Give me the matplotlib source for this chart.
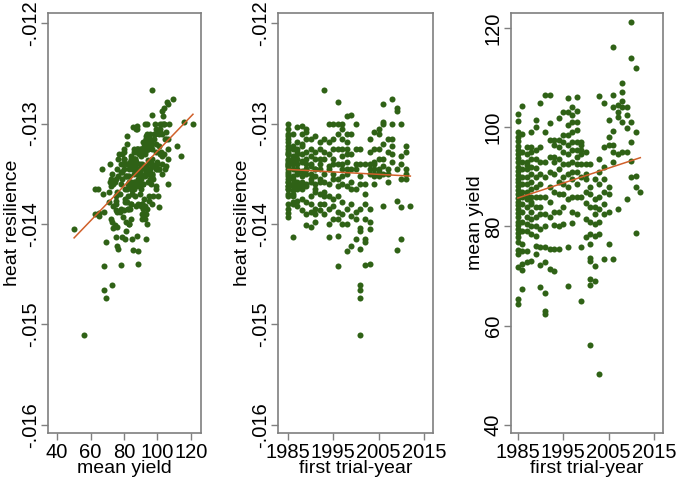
import numpy as np
import matplotlib
matplotlib.use("Agg")
import matplotlib.pyplot as plt
from matplotlib.ticker import FuncFormatter

plt.rcParams['font.family'] = ['Liberation Sans', 'DejaVu Sans']

# one entry per line: first trial-year, mean yield, heat resilience
first_year = [
    1985, 1985, 1985, 1985, 1985, 1985, 1985, 1985, 1985, 1985, 1985, 1985,
    1985, 1985, 1985, 1985, 1985, 1985, 1985, 1985, 1985, 1985, 1985, 1985,
    1985, 1985, 1985, 1985, 1985, 1985, 1985, 1985, 1985, 1985, 1985,
    1986, 1986, 1986, 1986, 1986, 1986, 1986, 1986, 1986, 1986, 1986, 1986,
    1986, 1986, 1986, 1986, 1986, 1986,
    1987, 1987, 1987, 1987, 1987, 1987, 1987, 1987, 1987, 1987, 1987, 1987,
    1987, 1987, 1987, 1987,
    1988, 1988, 1988, 1988, 1988, 1988, 1988, 1988, 1988, 1988, 1988, 1988,
    1988, 1988, 1988, 1988,
    1989, 1989, 1989, 1989, 1989, 1989, 1989, 1989, 1989, 1989, 1989, 1989,
    1989, 1989,
    1990, 1990, 1990, 1990, 1990, 1990, 1990, 1990, 1990, 1990, 1990, 1990,
    1991, 1991, 1991, 1991, 1991, 1991, 1991, 1991, 1991, 1991, 1991, 1991,
    1992, 1992, 1992, 1992, 1992, 1992, 1992, 1992, 1992, 1992,
    1993, 1993, 1993, 1993, 1993, 1993, 1993, 1993, 1993, 1993,
    1994, 1994, 1994, 1994, 1994, 1994, 1994, 1994, 1994, 1994,
    1995, 1995, 1995, 1995, 1995, 1995, 1995, 1995, 1995, 1995,
    1996, 1996, 1996, 1996, 1996, 1996, 1996, 1996, 1996, 1996, 1996, 1996,
    1997, 1997, 1997, 1997, 1997, 1997, 1997, 1997, 1997, 1997, 1997, 1997,
    1998, 1998, 1998, 1998, 1998, 1998, 1998, 1998, 1998, 1998, 1998, 1998,
    1999, 1999, 1999, 1999, 1999, 1999, 1999, 1999, 1999,
    2000, 2000, 2000, 2000, 2000, 2000, 2000, 2000,
    2001, 2001, 2001, 2001, 2001, 2001, 2001, 2001, 2001, 2001, 2001, 2001,
    2002, 2002, 2002, 2002, 2002, 2002, 2002, 2002,
    2003, 2003, 2003, 2003, 2003, 2003, 2003, 2003, 2003,
    2004, 2004, 2004, 2004, 2004, 2004, 2004, 2004,
    2005, 2005, 2005, 2005, 2005, 2005, 2005,
    2006, 2006, 2006, 2006, 2006, 2006, 2006, 2006,
    2007, 2007, 2007, 2007, 2007,
    2008, 2008, 2008, 2008, 2008, 2008,
    2009, 2009, 2009, 2009, 2009,
    2010, 2010, 2010, 2010, 2010, 2010,
    2011, 2011, 2011, 2011, 2011,
    2012,
]

mean_yield = [
    # 1985
    64.3, 65.3, 71.8, 74.5, 75.2, 76.8, 77.9, 78.6, 79.4, 80.2, 81.0, 81.9,
    82.8, 83.5, 84.3, 85.0, 85.8, 86.6, 87.3, 88.1, 88.9, 89.6, 90.4, 91.2,
    92.0, 92.9, 93.7, 94.6, 95.4, 96.3, 97.2, 98.1, 99.0, 101.3, 102.7,
    # 1986
    104.2, 98.7, 95.0, 93.0, 91.5, 90.0, 88.5, 87.0, 86.0, 84.5, 83.0, 81.0,
    79.0, 76.5, 75.0, 72.5, 71.2, 67.4,
    # 1987
    72.8, 75.0, 79.0, 80.5, 82.0, 84.0, 85.5, 87.0, 88.5, 90.0, 91.5, 93.0,
    94.5, 96.0, 86.2, 92.3,
    # 1988
    73.0, 78.5, 80.0, 81.5, 83.0, 84.5, 86.0, 87.5, 89.0, 90.5, 92.0, 93.5,
    95.0, 96.0, 99.0, 85.0,
    # 1989
    74.5, 76.0, 78.0, 80.0, 82.0, 84.0, 86.0, 88.0, 90.0, 91.8, 93.5, 95.5,
    100.0, 101.4,
    # 1990
    67.9, 72.3, 75.8, 79.5, 82.5, 84.0, 86.0, 88.5, 90.5, 93.0, 96.0, 104.9,
    # 1991
    62.4, 62.9, 66.6, 72.8, 75.8, 80.0, 82.5, 86.0, 90.0, 93.0, 99.0, 106.5,
    # 1992
    71.5, 75.5, 82.0, 85.0, 88.0, 91.0, 94.0, 97.5, 100.8, 106.5,
    # 1993
    71.0, 75.5, 80.2, 83.0, 87.0, 90.5, 93.0, 94.0, 96.5, 97.5,
    # 1994
    75.5, 80.0, 83.0, 86.5, 89.0, 91.5, 93.5, 96.0, 97.5, 101.8,
    # 1995
    80.5, 84.0, 86.5, 88.5, 90.0, 92.5, 95.0, 97.0, 98.5, 103.0,
    # 1996
    68.1, 75.8, 85.5, 88.0, 90.5, 92.5, 94.5, 96.5, 98.5, 100.5, 103.0, 105.8,
    # 1997
    80.8, 83.0, 86.0, 89.5, 91.0, 93.0, 95.5, 97.0, 99.0, 101.0, 102.5, 104.0,
    # 1998
    82.5, 86.0, 88.5, 91.0, 92.5, 94.0, 95.5, 97.0, 99.5, 101.0, 103.3, 106.0,
    # 1999
    65.0, 75.8, 86.0, 90.0, 92.5, 94.5, 95.5, 96.5, 97.0,
    # 2000
    77.8, 81.5, 84.8, 87.0, 89.5, 90.5, 92.5, 95.0,
    # 2001
    56.2, 68.2, 69.5, 73.0, 73.7, 76.5, 78.5, 81.0, 84.0, 86.5, 88.0, 92.5,
    # 2002
    69.0, 72.0, 78.0, 80.5, 82.5, 84.0, 85.5, 89.5,
    # 2003
    50.2, 78.5, 81.0, 83.5, 86.0, 88.5, 91.0, 93.5, 106.2,
    # 2004
    73.5, 82.5, 84.5, 87.0, 89.5, 92.0, 96.0, 104.8,
    # 2005
    76.5, 83.0, 86.5, 88.0, 96.5, 98.0, 101.5,
    # 2006
    73.5, 93.0, 95.0, 96.5, 99.2, 104.0, 106.5, 116.1,
    # 2007
    83.5, 94.5, 102.0, 103.0, 104.5,
    # 2008
    95.0, 101.0, 105.3, 107.0, 109.0, 104.0,
    # 2009
    85.5, 95.0, 99.8, 102.5, 104.0,
    # 2010
    93.2, 101.0, 114.0, 121.2, 90.0, 97.0,
    # 2011
    78.6, 87.9, 90.2, 99.0, 111.9,
    # 2012
    87.0,
]

heat_res = [
    # 1985
    -0.01365, -0.01389, -0.01340, -0.01358, -0.01372, -0.01330, -0.01370, -0.01348,
    -0.01393, -0.01325, -0.01352, -0.01312, -0.01362, -0.01338, -0.01380, -0.01335,
    -0.01342, -0.01358, -0.01305, -0.01350, -0.01362, -0.01340, -0.01328, -0.01385,
    -0.01322, -0.01345, -0.01300, -0.01336, -0.01355, -0.01318, -0.01342, -0.01315,
    -0.01365, -0.01330, -0.01310,
    # 1986
    -0.01345, -0.01310, -0.01372, -0.01322, -0.01360, -0.01332, -0.01380, -0.01338,
    -0.01325, -0.01366, -0.01340, -0.01352, -0.01413, -0.01335, -0.01355, -0.01362,
    -0.01378, -0.01370,
    # 1987
    -0.01350, -0.01377, -0.01330, -0.01365, -0.01340, -0.01358, -0.01303, -0.01362,
    -0.01345, -0.01382, -0.01318, -0.01348, -0.01325, -0.01360, -0.01335, -0.01328,
    # 1988
    -0.01360, -0.01348, -0.01386, -0.01320, -0.01352, -0.01338, -0.01365, -0.01302,
    -0.01358, -0.01330, -0.01375, -0.01310, -0.01347, -0.01322, -0.01362, -0.01337,
    # 1989
    -0.01401, -0.01345, -0.01360, -0.01328, -0.01378, -0.01335, -0.01362, -0.01305,
    -0.01350, -0.01390, -0.01315, -0.01345, -0.01340, -0.01308,
    # 1990
    -0.01388, -0.01355, -0.01403, -0.01340, -0.01372, -0.01332, -0.01358, -0.01325,
    -0.01380, -0.01315, -0.01350, -0.01342,
    # 1991
    -0.01365, -0.01390, -0.01345, -0.01398, -0.01368, -0.01335, -0.01385, -0.01328,
    -0.01352, -0.01312, -0.01345, -0.01360,
    # 1992
    -0.01358, -0.01386, -0.01340, -0.01370, -0.01325, -0.01380, -0.01318, -0.01355,
    -0.01345, -0.01335,
    # 1993
    -0.01368, -0.01380, -0.01335, -0.01358, -0.01328, -0.01390, -0.01315, -0.01350,
    -0.01267, -0.01372,
    # 1994
    -0.01413, -0.01345, -0.01400, -0.01372, -0.01330, -0.01360, -0.01385, -0.01318,
    -0.01342, -0.01300,
    # 1995
    -0.01375, -0.01395, -0.01335, -0.01355, -0.01325, -0.01382, -0.01315, -0.01350,
    -0.01300, -0.01340,
    # 1996
    -0.01442, -0.01388, -0.01362, -0.01412, -0.01340, -0.01395, -0.01325, -0.01355,
    -0.01310, -0.01372, -0.01300, -0.01279,
    # 1997
    -0.01378, -0.01400, -0.01340, -0.01360, -0.01325, -0.01390, -0.01315, -0.01352,
    -0.01305, -0.01345, -0.01332, -0.01300,
    # 1998
    -0.01385, -0.01362, -0.01427, -0.01330, -0.01345, -0.01400, -0.01318, -0.01350,
    -0.01338, -0.01310, -0.01293, -0.01325,
    # 1999
    -0.01392, -0.01422, -0.01345, -0.01365, -0.01330, -0.01358, -0.01310, -0.01292,
    -0.01380,
    # 2000
    -0.01388, -0.01365, -0.01415, -0.01340, -0.01325, -0.01395, -0.01300, -0.01345,
    # 2001
    -0.01510, -0.01466, -0.01474, -0.01461, -0.01404, -0.01425, -0.01385, -0.01407,
    -0.01340, -0.01360, -0.01325, -0.01352,
    # 2002
    -0.01418, -0.01395, -0.01441, -0.01415, -0.01360, -0.01380, -0.01340, -0.01370,
    # 2003
    -0.01405, -0.01340, -0.01398, -0.01385, -0.01350, -0.01440, -0.01328, -0.01345,
    -0.01315,
    # 2004
    -0.01360, -0.01352, -0.01345, -0.01338, -0.01350, -0.01325, -0.01340, -0.01308,
    # 2005
    -0.01352, -0.01345, -0.01335, -0.01348, -0.01325, -0.01310, -0.01305,
    # 2006
    -0.01382, -0.01342, -0.01350, -0.01335, -0.01320, -0.01300, -0.01281, -0.01298,
    # 2007
    -0.01358, -0.01345, -0.01328, -0.01350, -0.01315,
    # 2008
    -0.01338, -0.01322, -0.01315, -0.01300, -0.01276, -0.01330,
    # 2009
    -0.01426, -0.01377, -0.01345, -0.01288, -0.01285,
    # 2010
    -0.01415, -0.01383, -0.01332, -0.01300, -0.01355, -0.01340,
    # 2011
    -0.01355, -0.01350, -0.01345, -0.01328, -0.01322,
    # 2012
    -0.01382,
]

# linear fits (intercept, slope)
fit_res_on_yield = (-0.015008, 1.733e-5)
fit_res_on_year = (-0.013457 + 1985 * 2.44e-6, -2.44e-6)
fit_yield_on_year = (85.73 - 1985 * 0.301, 0.301)

first_year = np.array(first_year)
mean_yield = np.array(mean_yield)
heat_res = np.array(heat_res)

dot_color = '#2f6216'
line_color = '#d0602a'
spine_color = '#7f7f7f'

fig = plt.figure(figsize=(6.77, 4.83), dpi=100)
rects = [
    [48/677, 1-433/483, 153/677, 420/483],
    [278/677, 1-433/483, 155/677, 420/483],
    [511/677, 1-433/483, 152/677, 420/483],
]

panels = [
    (mean_yield, heat_res, fit_res_on_yield, 'mean yield', 'heat resilience'),
    (first_year, heat_res, fit_res_on_year, 'first trial-year', 'heat resilience'),
    (first_year, mean_yield, fit_yield_on_year, 'first trial-year', 'mean yield'),
]

res_fmt = FuncFormatter(lambda v, p: f"{v:.3f}".replace("0.", "."))

for i, (x, y, fit, xl, yl) in enumerate(panels):
    ax = fig.add_axes(rects[i])
    ax.scatter(x, y, s=19, color=dot_color, linewidths=0, zorder=2)
    xs = np.array([x.min(), x.max()])
    ax.plot(xs, fit[0] + fit[1] * xs, color=line_color, lw=1.1, zorder=3)

    if i == 0:
        ax.set_xlim(34.6, 126)
        ax.set_xticks([40, 60, 80, 100, 120])
    elif i == 1:
        ax.set_xlim(1982.8, 2017)
        ax.set_xticks([1985, 1995, 2005, 2015])
    else:
        ax.set_xlim(1983.5, 2017)
        ax.set_xticks([1985, 1995, 2005, 2015])

    if i < 2:
        ax.set_ylim(-0.01608, -0.0119)
        ax.set_yticks([-0.016, -0.015, -0.014, -0.013, -0.012])
        ax.yaxis.set_major_formatter(res_fmt)
    else:
        ax.set_ylim(38.4, 123)
        ax.set_yticks([40, 60, 80, 100, 120])

    for side in ['left', 'right', 'top', 'bottom']:
        ax.spines[side].set_color(spine_color)
        ax.spines[side].set_linewidth(1.2)
    ax.tick_params(colors=spine_color, labelcolor='black', labelsize=14.5,
                   length=5, width=1.0)
    ax.tick_params(axis='y', pad=1)
    ax.tick_params(axis='x', pad=2)
    for lab in ax.get_yticklabels():
        lab.set_rotation(90)
        lab.set_va('center')
    ax.set_xlabel(xl, fontsize=14, labelpad=-1)
    ax.set_ylabel(yl, fontsize=14, labelpad=0)

fig.savefig('out.png', dpi=100)
